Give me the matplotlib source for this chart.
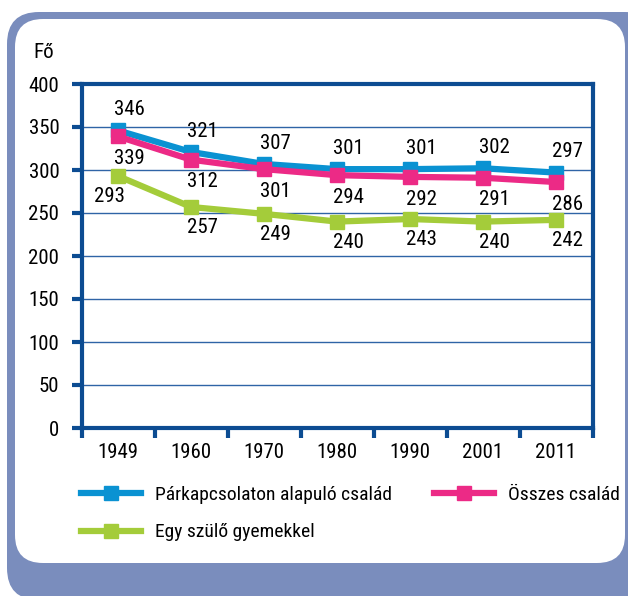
import matplotlib.pyplot as plt
from matplotlib import font_manager
from matplotlib.patches import FancyBboxPatch
from matplotlib.lines import Line2D

names = {f.name for f in font_manager.fontManager.ttflist}
narrow = [n for n in ['Liberation Sans Narrow', 'Roboto Condensed', 'Open Sans Condensed',
                      'DejaVu Sans Condensed'] if n in names]
plt.rcParams['font.family'] = narrow + ['DejaVu Sans']
plt.rcParams['font.stretch'] = 'condensed'

years = ['1949', '1960', '1970', '1980', '1990', '2001', '2011']
parkapcsolat = [346, 321, 307, 301, 301, 302, 297]
osszes = [339, 312, 301, 294, 292, 291, 286]
egy_szulo = [293, 257, 249, 240, 243, 240, 242]
yticks = [0, 50, 100, 150, 200, 250, 300, 350, 400]

blue = '#0a92d2'
pink = '#ec2a86'
green = '#a4cc3a'
frame = '#7a8dbd'
dark = '#0c4c92'

W, H = 628, 596
fig = plt.figure(figsize=(W / 100, H / 100), dpi=100)

# frame: blue-gray rounded box with a white rounded panel inside (inch units)
outer = FancyBboxPatch((0.07, -0.04), 6.5, 5.88,
                       boxstyle='round,pad=0,rounding_size=0.32',
                       transform=fig.dpi_scale_trans, fc=frame, ec='none', zorder=-2)
inner = FancyBboxPatch((0.15, 0.33), 6.10, 5.44,
                       boxstyle='round,pad=0,rounding_size=0.28',
                       transform=fig.dpi_scale_trans, fc='white', ec='none', zorder=-1)
fig.patches.extend([outer, inner])

ax = fig.add_axes([81.5 / W, (H - 428) / H, 511 / W, 344 / H])
ax.set_facecolor('none')

x = range(len(years))
lw = 4.5
ms = 10
ax.plot(x, egy_szulo, color=green, lw=lw, marker='s', ms=ms, zorder=3)
ax.plot(x, osszes, color=pink, lw=lw, marker='s', ms=ms, zorder=5)
ax.plot(x, parkapcsolat, color=blue, lw=lw, marker='s', ms=ms, zorder=4)

fs = 15
for i, v in enumerate(parkapcsolat):
    ax.annotate(str(v), (i, v), xytext=(8, 15), textcoords='offset points',
                ha='center', va='center', fontsize=fs)
for i, v in enumerate(osszes):
    ax.annotate(str(v), (i, v), xytext=(8, -16), textcoords='offset points',
                ha='center', va='center', fontsize=fs)
for i, v in enumerate(egy_szulo):
    dx = -6 if i == 0 else 8
    ax.annotate(str(v), (i, v), xytext=(dx, -15), textcoords='offset points',
                ha='center', va='center', fontsize=fs)

ax.set_xlim(-0.5, 6.5)
ax.set_ylim(0, 400)
ax.set_yticks(yticks)
ax.set_yticklabels([str(t) for t in yticks], fontsize=fs)
ax.set_xticks([i - 0.5 for i in range(len(years) + 1)])
ax.set_xticklabels([])
ax.set_xticks(list(x), minor=True)
ax.set_xticklabels(years, minor=True, fontsize=fs)
ax.tick_params(axis='x', which='minor', length=0, pad=11)
ax.tick_params(axis='x', which='major', length=7, width=3, color=dark)
ax.tick_params(axis='y', length=7, width=3, color=dark, pad=9)
ax.yaxis.grid(True, color='#2f64a6', lw=1)
ax.set_axisbelow(True)
for s in ax.spines.values():
    s.set_color(dark)
    s.set_linewidth(3)

fig.text(33 / W, (H - 52) / H, 'Fő', fontsize=fs, va='center', ha='left')

def handle(c):
    return Line2D([], [], color=c, lw=lw, marker='s', ms=ms)

lfs = 14
common = dict(loc='upper left', frameon=False, fontsize=lfs, handlelength=3.1,
              handletextpad=0.7, borderpad=0, borderaxespad=0)
leg1 = fig.legend([handle(blue), handle(green)],
                  ['Párkapcsolaton alapuló család', 'Egy szülő gyemekkel'],
                  bbox_to_anchor=(81 / W, (H - 486) / H), labelspacing=1.0, **common)
leg2 = fig.legend([handle(pink)], ['Összes család'],
                  bbox_to_anchor=(434 / W, (H - 486) / H), **common)

fig.savefig('out.png', dpi=100)
